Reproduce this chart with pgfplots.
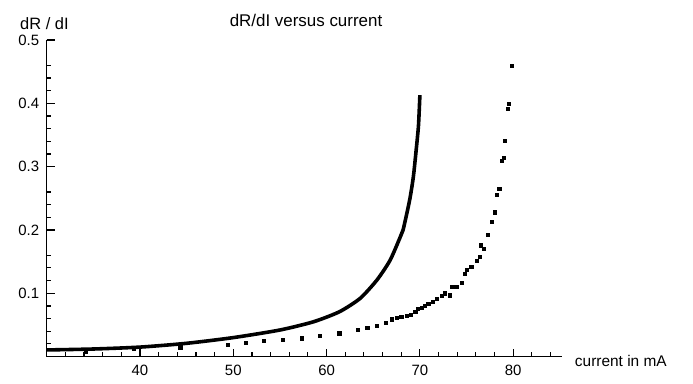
\documentclass[border=0pt]{standalone}
\usepackage{fontspec}
\setmainfont{Liberation Sans}
\usepackage{pgfplots}
\pgfplotsset{compat=1.18}
\begin{document}
\begin{tikzpicture}
\path[use as bounding box] (0,0) rectangle (693bp,384bp);
\node[font=\fontsize{17}{19}\selectfont, anchor=base, inner sep=0pt] at (306bp,357bp) {dR/dI versus current};
\node[font=\fontsize{16.5}{18}\selectfont, anchor=base west, inner sep=0pt] at (20bp,354.5bp) {dR / dI};
\begin{axis}[
  at={(46.7bp,27.4bp)}, anchor=south west,
  scale only axis, width=515bp, height=316.6bp,
  xmin=30, xmax=85.2, ymin=0, ymax=0.5,
  axis x line*=bottom, axis y line*=left,
  axis line style={-, line width=0.9pt},
  xtick={40,50,60,70,80}, ytick={0.1,0.2,0.3,0.4,0.5},
  minor xtick={32,34,...,38,42,44,...,48,52,54,...,58,62,64,...,68,72,74,...,78,82,84},
  minor ytick={0.02,0.04,...,0.08,0.12,0.14,...,0.18,0.22,0.24,...,0.28,0.32,0.34,...,0.38,0.42,0.44,...,0.48},
  xtick align=inside, ytick align=inside,
  major tick length=8bp, minor tick length=4.5bp,
  every tick/.style={line width=1.1pt, black},
  /pgf/number format/assume math mode=true,
  yticklabel style={/pgf/number format/fixed, /pgf/number format/precision=1},
  ticklabel style={font=\fontsize{15}{17}\selectfont},
  xticklabel style={yshift=-5bp},
  yticklabel style={xshift=-4bp},
  clip=false,
]
\addplot[black, line width=3.6pt, smooth, tension=0.4] coordinates {
(30,0.0105) (35,0.012) (40,0.015) (45,0.021) (50,0.030) (55,0.042)
(58.6,0.055) (61.4,0.071) (63.6,0.092) (65.4,0.121) (66.8,0.152)
(67.9,0.189) (68.2,0.200) (68.9,0.247) (69.3,0.284) (69.6,0.326)
(69.85,0.365) (70.0,0.413)
};
\addplot[only marks, mark=square*, mark size=1.6bp, black] coordinates {
(34.2,0.008) (39.3,0.0125) (44.3,0.015) (49.4,0.019) (51.3,0.022)
(53.3,0.025) (55.3,0.027) (57.3,0.029) (59.3,0.033) (61.35,0.037)
(63.3,0.043) (64.35,0.046) (65.36,0.049) (66.36,0.053) (67.0,0.059)
(67.5,0.061) (68.0,0.063) (68.6,0.064) (69.0,0.066) (69.5,0.071)
(69.8,0.076) (70.2,0.077) (70.5,0.080) (70.9,0.084) (71.4,0.087)
(71.8,0.092) (72.3,0.096) (72.7,0.100) (73.2,0.097) (73.4,0.110)
(73.9,0.111) (74.5,0.117) (74.8,0.131) (75.0,0.137) (75.5,0.142)
(76.1,0.152) (76.4,0.158) (76.5,0.176) (76.8,0.171) (77.3,0.192)
(77.7,0.213) (78.0,0.228) (78.2,0.256) (78.5,0.265) (78.75,0.309)
(79.0,0.314) (79.1,0.341) (79.4,0.392) (79.55,0.399) (79.8,0.46)
};
\node[font=\fontsize{15.5}{17}\selectfont, anchor=base west, inner sep=0pt] at (axis cs:86.6,-0.0159) {current in mA};
\end{axis}
\end{tikzpicture}
\end{document}
